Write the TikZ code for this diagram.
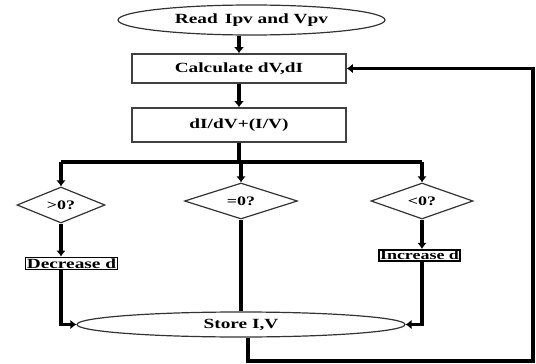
\documentclass[tikz,border=0pt]{standalone}
\usepackage{fontspec}
\newfontfamily\flowfont{Liberation Serif}[FakeStretch=1.38]
\usepackage{tikz}
\usetikzlibrary{shapes,shapes.geometric,calc,arrows.meta}

\begin{document}
\begin{tikzpicture}[x=1pt,y=-1pt,
  every node/.style={font=\flowfont\bfseries\fontsize{14}{16}\selectfont,inner sep=1pt},
  termnode/.style={ellipse,draw=black!80,line width=1.2pt,inner sep=0pt},
  procbox/.style={rectangle,draw=black!75,line width=1.6pt,inner sep=0pt},
  decnode/.style={diamond,draw=black!80,line width=1.2pt,inner sep=0pt,aspect=2.5,
    font=\flowfont\bfseries\fontsize{13}{15}\selectfont},
  smallbox/.style={rectangle,draw=black,line width=1.6pt,inner sep=1.2pt},
  flowline/.style={line width=3.7pt},
  flowarrow/.style={line width=3.7pt,-{Latex[length=6pt,width=9.5pt]}}]
			      \useasboundingbox (0,0) rectangle (536,364);
			      % Coordinates
			      \coordinate (split) at (239,162);
			      \coordinate (loopcorner) at (533,361);
			      % Nodes
			      \node[termnode,minimum width=267pt,minimum height=30pt] (read) at (251.5,20) {Read\, Ipv and Vpv};
			      \node[procbox,minimum width=214pt,minimum height=29pt] (calc) at (239,68.5) {Calculate dV,dI};
			      \node[procbox,minimum width=214pt,minimum height=34pt] (ratio) at (239,125) {dI/dV+(I/V)};
			      \node[decnode,minimum width=88pt,minimum height=36pt] (gt) at (61,205) {>0?};
			      \node[decnode,minimum width=113pt,minimum height=36pt] (eq) at (241,201) {=0?};
			      \node[decnode,minimum width=102pt,minimum height=36pt] (lt) at (422,201) {<0?};
			      \node[smallbox] (dec) at (71.5,263.5) {Decrease d};
			      \node[smallbox,font=\flowfont\bfseries\fontsize{13}{15}\selectfont] (inc) at (419.5,255.5) {Increase d};
			      \node[termnode,minimum width=328pt,minimum height=25pt] (store) at (241,324.5) {Store I,V};

			      % Top of the chart
			      \draw[line width=4.8pt,-{Latex[length=6pt,width=10pt]}] (calc.north |- read.south) -- (calc.north);
			      \draw[line width=4.8pt,-{Latex[length=6pt,width=10pt]}] (calc.south) -- (ratio.north);
			      \draw[flowline] (ratio.south) -- (split);
			      \draw[flowline] (gt.north |- split) -- (lt.north |- split);
			      % Branches
			      \draw[flowarrow] (gt.north |- split) -- (gt.north);
			      \draw[flowarrow] (split) -- (eq.north |- split) -- (eq.north);
			      \draw[flowarrow] (lt.north |- split) -- (lt.north);
			      \draw[flowarrow] (gt.south) -- (gt.south |- dec.north);
			      \draw[flowarrow] (lt.south) -- (lt.south |- inc.north);
			      \draw[flowarrow] (gt.south |- dec.south) -- (gt.south |- store.west) -- (store.west);
			      \draw[flowarrow] (lt.south |- inc.south) -- (lt.south |- store.east) -- (store.east);
			      \draw[flowline] (eq.south) -- (eq.south |- store.north);
			      % Feedback loop
			      \draw[flowarrow] ([xshift=7pt]store.south) |- (loopcorner) |- (calc.east);
		      \end{tikzpicture}
\end{document}
